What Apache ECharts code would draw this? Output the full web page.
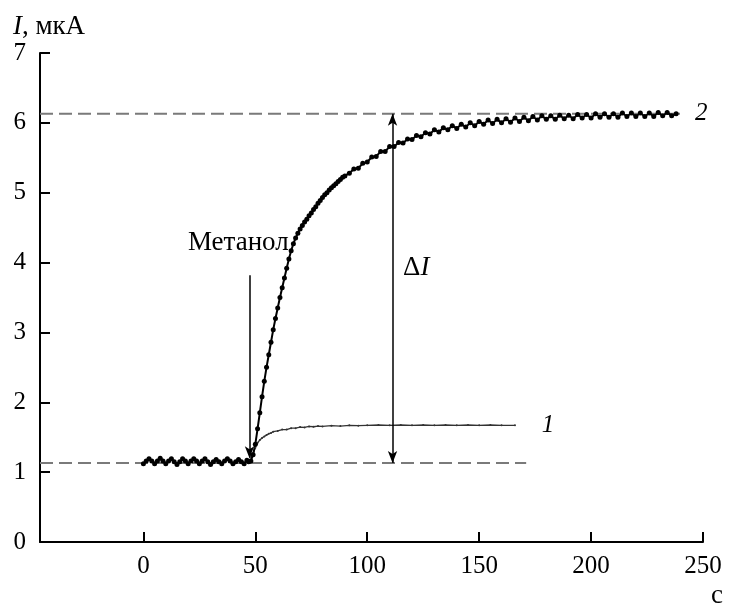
<!DOCTYPE html>
<html>
<head>
<meta charset="utf-8">
<script src="https://cdn.jsdelivr.net/npm/echarts@6/dist/echarts.min.js"></script>
<style>html,body{margin:0;padding:0;background:#fff}#chart{width:738px;height:605px}</style>
</head>
<body>
<div id="chart"></div>
<script>
const X_TICKS = [0, 50, 100, 150, 200, 250]
const BASE_LEVEL = 1.13
const TOP_LEVEL = 6.13

// curve 2: response to methanol, [time s, current uA]
const curve2 = [
  [0,1.12],[1.25,1.16],[2.5,1.19],[3.75,1.16],[5,1.12],[6.25,1.16],[7.5,1.20],[8.75,1.16],[10,1.12],[11.25,1.16],
  [12.5,1.19],[13.75,1.15],[15,1.11],[16.25,1.15],[17.5,1.19],[18.75,1.16],[20,1.12],[21.25,1.16],[22.5,1.19],[23.75,1.16],
  [25,1.12],[26.25,1.16],[27.5,1.19],[28.75,1.15],[30,1.11],[31.25,1.15],[32.5,1.18],[33.75,1.15],[35,1.12],[36.25,1.16],
  [37.5,1.19],[38.75,1.16],[40,1.12],[41.25,1.15],[42.5,1.18],[43.75,1.15],[45,1.12],[46.25,1.17],[47,1.15],
  [48,1.16],[49,1.25],[50,1.40],[51,1.62],[52,1.85],[53,2.08],[54,2.30],[55,2.50],[56,2.68],[57,2.86],
  [58,3.04],[59,3.20],[60,3.35],[61,3.50],[62,3.64],[63,3.78],[64,3.92],[65,4.05],[66,4.17],[67,4.27],
  [68,4.35],[69,4.42],[70,4.48],[71,4.53],[72,4.58],[73,4.62],[74,4.67],[75,4.71],[76,4.76],[77,4.80],
  [78,4.85],[79,4.89],[80,4.93],[81,4.97],[82,5.00],[83,5.04],[84,5.07],[85,5.10],[86,5.13],[87,5.16],
  [88,5.19],[89,5.22],[90,5.24],[92,5.28],[94,5.34],[96,5.35],[98,5.42],[100,5.44],[102,5.51],[104,5.52],
  [106,5.59],[108,5.59],[110,5.66],[112,5.66],[114,5.72],[116,5.71],[118,5.77],[120,5.76],[122,5.82],[124,5.80],
  [126,5.86],[128,5.84],[130,5.90],[132,5.87],[134,5.93],[136,5.90],[138,5.96],[140,5.92],[142,5.98],[144,5.94],
  [146,6.00],[148,5.96],[150,6.02],[152,5.98],[154,6.04],[156,5.99],[158,6.05],[160,6.00],[162,6.06],[164,6.01],
  [166,6.07],[168,6.02],[170,6.08],[172,6.03],[174,6.09],[176,6.04],[178,6.10],[180,6.05],[182,6.10],[184,6.05],
  [186,6.11],[188,6.06],[190,6.11],[192,6.06],[194,6.12],[196,6.07],[198,6.12],[200,6.07],[202,6.13],[204,6.08],
  [206,6.13],[208,6.08],[210,6.13],[212,6.08],[214,6.14],[216,6.09],[218,6.14],[220,6.09],[222,6.14],[224,6.09],
  [226,6.14],[228,6.09],[230,6.15],[232,6.10],[234,6.15],[236,6.10],[238,6.13]
]

// curve 1
const curve1 = [
  [47,1.15],[48,1.17],[49,1.27],[50,1.35],[51,1.42],[52,1.46],[53,1.49],[54,1.51],[55,1.53],[56,1.55],
  [57,1.56],[58,1.58],[60,1.59],[62,1.61],[64,1.61],[66,1.63],[68,1.63],[70,1.645],[72,1.64],[74,1.655],
  [76,1.65],[78,1.66],[80,1.655],[84,1.665],[88,1.66],[92,1.67],[96,1.665],[100,1.67],[105,1.675],[110,1.67],
  [115,1.675],[120,1.67],[125,1.675],[130,1.67],[135,1.675],[140,1.67],[145,1.675],[150,1.67],[155,1.675],[160,1.67],[166,1.67]
]

const FONT = 'Liberation Serif'
const txt = { fontFamily: FONT, fontSize: 25, color: '#000' }
const cyr = { fontFamily: FONT, fontSize: 27, color: '#000' }

const chart = echarts.init(document.getElementById('chart'), null, { renderer: 'canvas' })
chart.setOption({
  animation: false,
  backgroundColor: '#fff',
  grid: { left: 40, right: 35, top: 53, bottom: 63, containLabel: false, outerBoundsMode: 'none' },
  xAxis: {
    type: 'value', min: -46.2, max: 250,
    name: 'с', nameLocation: 'end', nameGap: 8,
    nameTextStyle: { ...cyr, verticalAlign: 'top', padding: [40, 0, 0, 0] },
    axisLine: { onZero: false, lineStyle: { color: '#000', width: 2 } },
    axisTick: { inside: true, length: 10, customValues: X_TICKS, lineStyle: { color: '#000', width: 2 } },
    axisLabel: { ...txt, margin: 12, customValues: X_TICKS },
    splitLine: { show: false }
  },
  yAxis: {
    type: 'value', min: 0, max: 7, interval: 1,
    name: '{i|I}, мкА', nameLocation: 'end', nameGap: 9,
    nameTextStyle: { ...cyr, padding: [0, 0, 0, 18], rich: { i: { ...cyr, fontStyle: 'italic' } } },
    axisLine: { onZero: false, lineStyle: { color: '#000', width: 2 } },
    axisTick: { inside: true, length: 10, lineStyle: { color: '#000', width: 2 } },
    axisLabel: { ...txt, margin: 14 },
    splitLine: { show: false }
  },
  series: [
    {
      name: 'base', type: 'line', silent: true, symbol: 'none',
      data: [[-46.2, BASE_LEVEL], [171, BASE_LEVEL]],
      lineStyle: { color: '#7a7a7a', width: 2, type: [13, 6] }
    },
    {
      name: 'top', type: 'line', silent: true, symbol: 'none',
      data: [[-46.2, TOP_LEVEL], [242, TOP_LEVEL]],
      lineStyle: { color: '#7a7a7a', width: 2, type: [13, 6] }
    },
    {
      name: '1', type: 'line', data: curve1,
      symbol: 'circle', symbolSize: 2, itemStyle: { color: '#333' },
      lineStyle: { color: '#333', width: 1.3 },
      markLine: {
        silent: true, symbol: ['none', 'arrow'], symbolSize: [7, 12],
        label: { show: false },
        lineStyle: { color: '#000', width: 1.5, type: 'solid' },
        data: [
          [{ coord: [47.4, 3.82] }, { coord: [47.4, 1.2] }],
          [{ coord: [111.3, BASE_LEVEL], symbol: 'arrow' }, { coord: [111.3, TOP_LEVEL] }]
        ]
      },
      markPoint: {
        silent: true, symbol: 'circle', symbolSize: 0,
        label: { show: true, ...txt },
        data: [
          { coord: [42.4, 4.28], label: { formatter: 'Метанол', align: 'center', ...cyr } },
          { coord: [116, 3.92], label: { formatter: 'Δ{i|I}', align: 'left', rich: { i: { ...cyr, fontStyle: 'italic' } }, ...cyr } },
          { coord: [180.7, 1.67], label: { formatter: '1', align: 'center', fontStyle: 'italic' } },
          { coord: [249.2, 6.13], label: { formatter: '2', align: 'center', fontStyle: 'italic' } }
        ]
      }
    },
    {
      name: '2', type: 'line', data: curve2,
      symbol: 'circle', symbolSize: 5, itemStyle: { color: '#000' },
      lineStyle: { color: '#000', width: 2 }
    }
  ]
})
</script>
</body>
</html>
